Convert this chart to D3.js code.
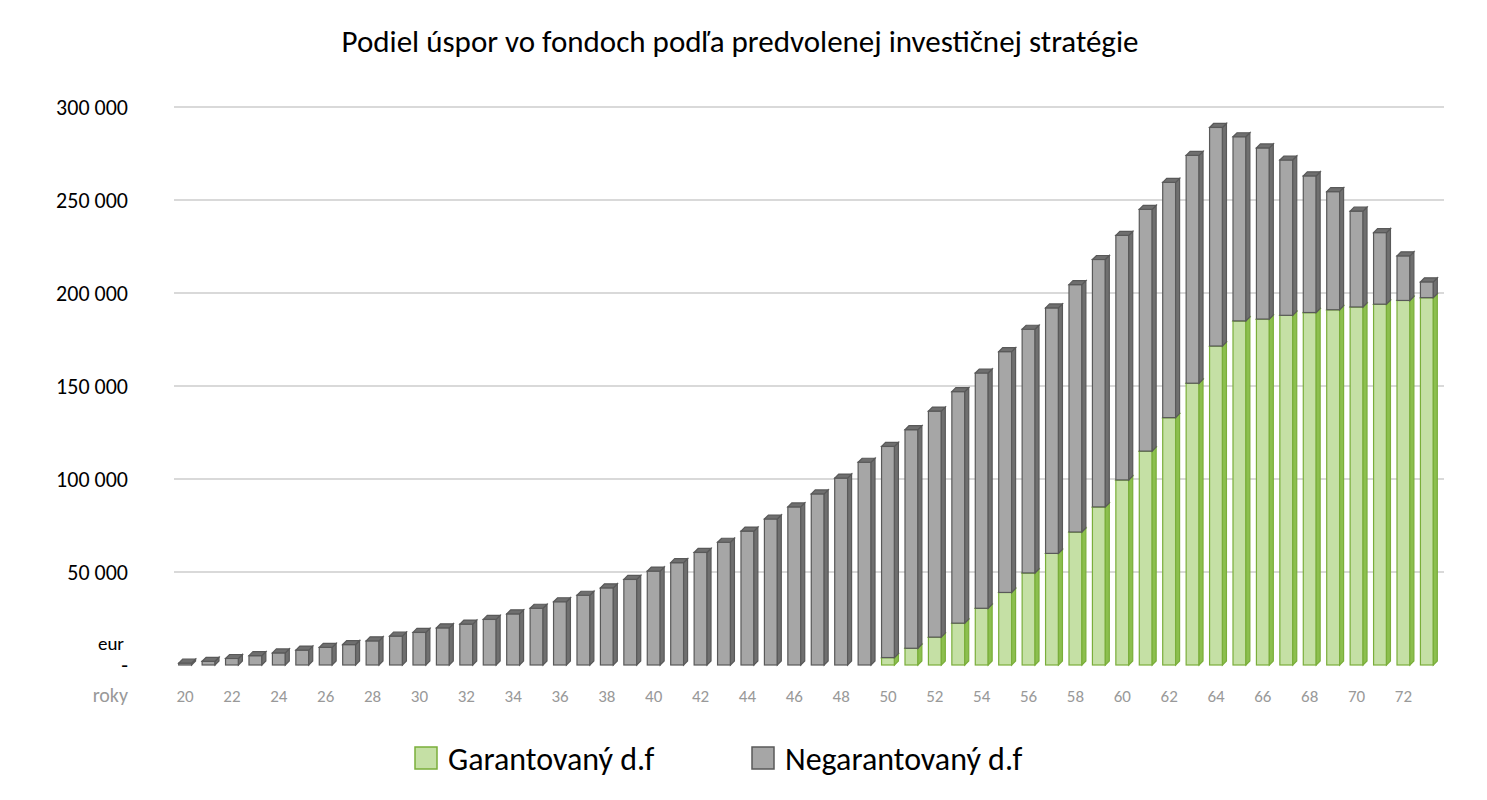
<!DOCTYPE html><html><head><meta charset="utf-8"><script src="https://d3js.org/d3.v7.min.js"></script>
<style>body{margin:0;background:#fff}</style></head><body><svg id="c" width="1487" height="800"></svg>
<script>
const years=d3.range(20,74);
const totals=[1000,2000,3500,5000,6500,8000,9500,11000,13000,15500,17500,20000,22000,24500,27500,30500,34000,37500,41500,46000,50500,55000,60500,66000,72000,78500,85000,92000,100500,109000,117500,126500,136500,147000,157000,168500,180500,192000,204500,218000,231000,245000,259500,274000,289000,284000,278000,271500,263000,254500,244000,232500,220000,206000];
const garant=[0,0,0,0,0,0,0,0,0,0,0,0,0,0,0,0,0,0,0,0,0,0,0,0,0,0,0,0,0,0,4000,9000,15000,22500,30500,39000,49500,60000,71500,85000,99500,115000,133000,151500,171500,185000,186000,188000,189500,191000,192500,194000,196000,197500];
const yTicks=[0,50000,100000,150000,200000,250000,300000];
const series=["Garantovaný d.f","Negarantovaný d.f"];
const svg=d3.select("#c");
const y=d3.scaleLinear().domain([0,300000]).range([665,107]);
const x=d3.scaleBand().domain(years).range([174,1438]).paddingInner(0.45).paddingOuter(0.2);
const ff="Calibri, Carlito, 'Open Sans', sans-serif";
svg.append("text").attr("x",740).attr("y",52).attr("text-anchor","middle").attr("font-family",ff).attr("font-size",31).text("Podiel úspor vo fondoch podľa predvolenej investičnej stratégie");
svg.selectAll(".g").data(yTicks.slice(1)).join("line").attr("x1",174).attr("x2",1444).attr("y1",d=>y(d)).attr("y2",d=>y(d)).attr("stroke","#d9d9d9").attr("stroke-width",2);
svg.selectAll(".yt").data(yTicks).join("text").attr("x",128).attr("y",d=>y(d)+8).attr("text-anchor","end").attr("font-family",ff).attr("font-size",22)
 .text(d=>d===0?"-":d3.format(",")(d).replace(/,/g," "));
svg.append("text").attr("x",124).attr("y",650).attr("text-anchor","end").attr("font-family",ff).attr("font-size",19).text("eur");
svg.append("text").attr("x",128).attr("y",702).attr("text-anchor","end").attr("font-family",ff).attr("font-size",20).attr("fill","#999").text("roky");
svg.selectAll(".xt").data(years.filter(d=>d%2===0)).join("text").attr("x",d=>x(d)+x.bandwidth()/2).attr("y",702).attr("text-anchor","middle").attr("font-family",ff).attr("font-size",17).attr("fill","#999").text(d=>d);
const dx=4,dy=4,w=x.bandwidth();
function bar(x0,y0,y1,front,side,stroke){
 const g=svg.append("g");
 if(y0-y1<0.5)return;
 g.append("rect").attr("x",x0).attr("y",y1).attr("width",w).attr("height",y0-y1).attr("fill",front).attr("stroke",stroke).attr("stroke-width",1.2);
 g.append("path").attr("d",`M${x0+w},${y1}L${x0+w+dx},${y1-dy}L${x0+w+dx},${y0-dy}L${x0+w},${y0}Z`).attr("fill",side).attr("stroke",stroke).attr("stroke-width",1.2);
 g.append("path").attr("d",`M${x0},${y1}L${x0+dx},${y1-dy}L${x0+w+dx},${y1-dy}L${x0+w},${y1}Z`).attr("fill",side).attr("stroke",stroke).attr("stroke-width",1.2);
}
years.forEach((yr,i)=>{
 const x0=x(yr);
 bar(x0,y(0),y(garant[i]),"#c5e0a5","#8cbf4e","#7aae3a");
 bar(x0,y(garant[i]),y(totals[i]),"#a6a6a6","#6f6f6f","#595959");
});
const lg=[{t:series[0],f:"#c5e0a5",s:"#7aae3a",x:415},{t:series[1],f:"#a6a6a6",s:"#595959",x:752}];
lg.forEach(l=>{svg.append("rect").attr("x",l.x).attr("y",747).attr("width",22).attr("height",22).attr("fill",l.f).attr("stroke",l.s).attr("stroke-width",1.5);
 svg.append("text").attr("x",l.x+33).attr("y",770).attr("font-family",ff).attr("font-size",32).text(l.t);});
</script></body></html>
